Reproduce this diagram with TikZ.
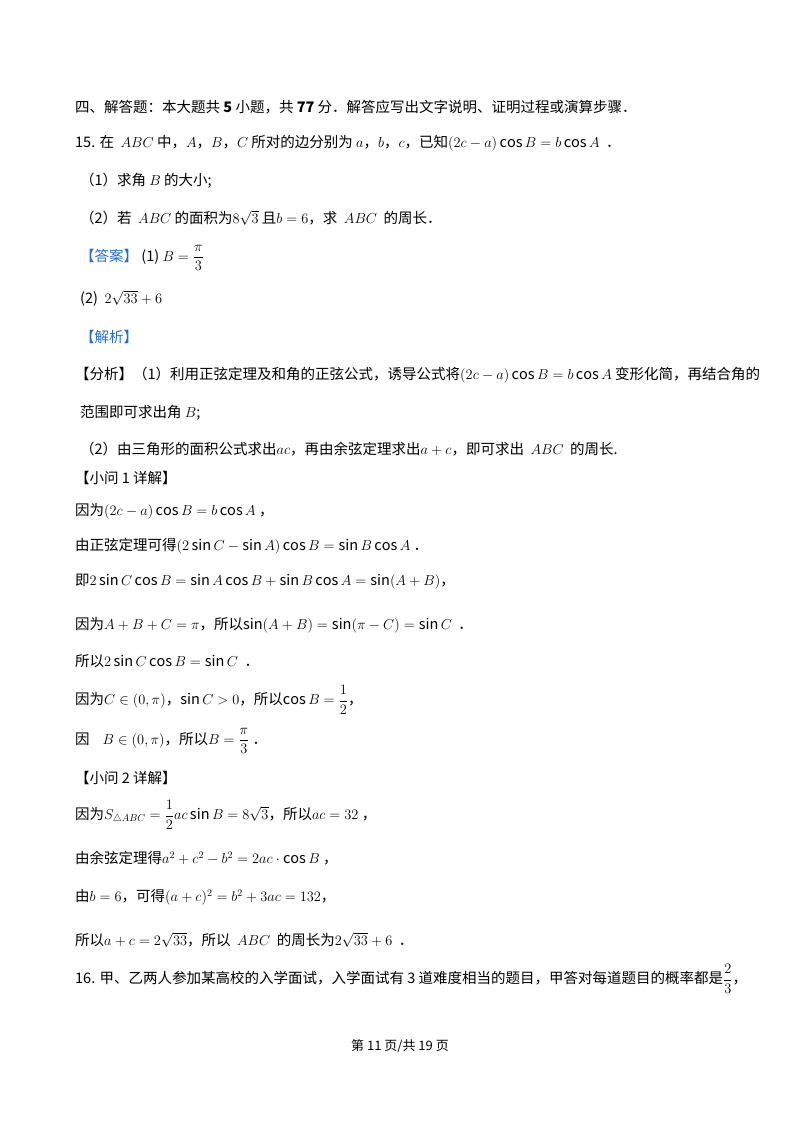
\documentclass[tikz,border=0pt]{standalone}
\usepackage{amsmath}
\usepackage{fontspec}
\setmainfont{Noto Sans CJK SC}
\definecolor{ans}{RGB}{40,110,200}
\begin{document}
\begin{tikzpicture}[x=1pt,y=-1pt,
  t/.style={anchor=west,inner sep=0pt,font=\fontsize{14.5}{17}\selectfont}]
\useasboundingbox (0,0) rectangle (800,1132);
\fill[white] (0,0) rectangle (800,1132);
\node[t] (l1) at (75,107) {四、解答题：本大题共 \textbf{5} 小题，共 \textbf{77} 分．解答应写出文字说明、证明过程或演算步骤．};
\node[t] (l2) at (75,143) {15. 在\ \ $ABC$ 中，$A$，$B$，$C$ 所对的边分别为 $a$，$b$，$c$，已知$(2c-a)\cos B=b\cos A$\ \ ．};
\node[t] (l3) at (80,181) {（1）求角 $B$ 的大小;};
\node[t] (l4) at (80,218) {（2）若\ \ $ABC$ 的面积为$8\sqrt{3}$ 且$b=6$，求\ \ $ABC$\ \ 的周长．};
\node[t] (l5) at (80,258) {\textcolor{ans}{【答案】}\ (1) $B=\dfrac{\pi}{3}$};
\node[t] (l6) at (80,298) {(2)\ \ $2\sqrt{33}+6$};
\node[t] (l7) at (80,337) {\textcolor{ans}{【解析】}};
\node[t] (l8) at (75,375) {【分析】（1）利用正弦定理及和角的正弦公式，诱导公式将$(2c-a)\cos B=b\cos A$\ 变形化简，再结合角的};
\node[t] (l9) at (80,413) {范围即可求出角 $B$;};
\node[t] (l10) at (80,449) {（2）由三角形的面积公式求出$ac$，再由余弦定理求出$a+c$，即可求出\ \ $ABC$\ \ 的周长.};
\node[t] (l11) at (75,478) {【小问 1 详解】};
\node[t] (l12) at (75,511) {因为$(2c-a)\cos B=b\cos A$\ ，};
\node[t] (l13) at (75,546) {由正弦定理可得$(2\sin C-\sin A)\cos B=\sin B\cos A$\ ．};
\node[t] (l14) at (75,582) {即$2\sin C\cos B=\sin A\cos B+\sin B\cos A=\sin(A+B)$，};
\node[t] (l15) at (75,625) {因为$A+B+C=\pi$，所以$\sin(A+B)=\sin(\pi-C)=\sin C$\ \ ．};
\node[t] (l16) at (75,661) {所以$2\sin C\cos B=\sin C$\ \ ．};
\node[t] (l17) at (75,700) {因为$C\in(0,\pi)$，$\sin C>0$，所以$\cos B=\dfrac{1}{2}$，};
\node[t] (l18) at (75,741) {因\ \ \ \ $B\in(0,\pi)$，所以$B=\dfrac{\pi}{3}$\ ．};
\node[t] (l19) at (75,778) {【小问 2 详解】};
\node[t] (l20) at (75,815) {因为$S_{\triangle ABC}=\dfrac{1}{2}ac\sin B=8\sqrt{3}$，所以$ac=32$\ ，};
\node[t] (l21) at (75,858) {由余弦定理得$a^2+c^2-b^2=2ac\cdot\cos B$\ ，};
\node[t] (l22) at (75,897) {由$b=6$，可得$(a+c)^2=b^2+3ac=132$，};
\node[t] (l23) at (75,940) {所以$a+c=2\sqrt{33}$，所以\ \ $ABC$\ \ 的周长为$2\sqrt{33}+6$\ \ ．};
\node[t] (l24) at (75,979) {16. 甲、乙两人参加某高校的入学面试，入学面试有 3 道难度相当的题目，甲答对每道题目的概率都是$\dfrac{2}{3}$，};
\node[inner sep=0pt,font=\fontsize{13}{15}\selectfont] (foot) at (400,1046) {第 11 页/共 19 页};
\end{tikzpicture}
\end{document}
